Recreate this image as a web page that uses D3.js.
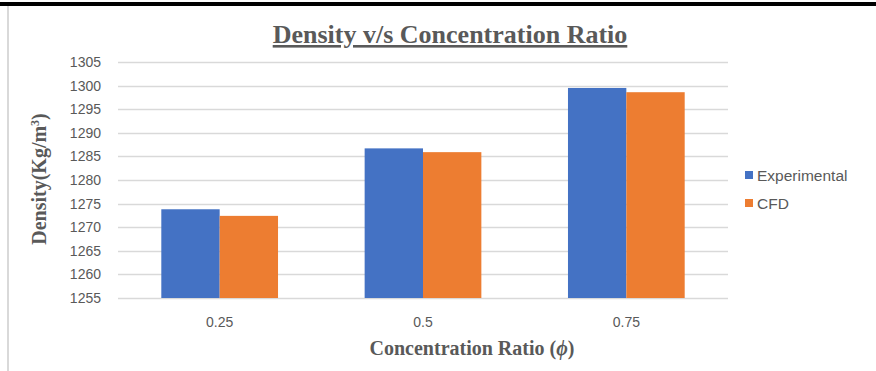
<!DOCTYPE html>
<html>
<head>
<meta charset="utf-8">
<script src="https://cdn.jsdelivr.net/npm/d3@7"></script>
<style>
  html, body { margin: 0; padding: 0; background: #fff; }
  svg { display: block; }
</style>
</head>
<body>
<svg id="chart" width="876" height="371"></svg>
<script>
// Concentration ratios on the x axis and measured / simulated densities
const categories = ["0.25", "0.5", "0.75"];
const seriesNames = ["Experimental", "CFD"];
const experimental = [1273.8, 1286.7, 1299.5];
const cfd = [1272.4, 1285.9, 1298.6];
const yTicks = [1255, 1260, 1265, 1270, 1275, 1280, 1285, 1290, 1295, 1300, 1305];
const colors = ["#4472C4", "#ED7D31"];

const svg = d3.select("#chart");
const W = 876, H = 371;
const plot = { left: 118, right: 728, top: 62, bottom: 298 };
const sans = "'Liberation Sans', Arial, sans-serif";
const serif = "'Liberation Serif', 'Times New Roman', serif";

// page frame: dark rule across the top, light rule down the left
svg.append("rect").attr("x", 0).attr("y", 2).attr("width", W).attr("height", 4).attr("fill", "#000");
svg.append("rect").attr("x", 7).attr("y", 6).attr("width", 2).attr("height", H - 6).attr("fill", "#d9d9d9");

const x0 = d3.scaleBand().domain(categories).range([plot.left, plot.right])
  .paddingInner(0.426).paddingOuter(0.213);
const x1 = d3.scaleBand().domain(seriesNames).range([0, x0.bandwidth()]);
const y = d3.scaleLinear().domain([1255, 1305]).range([plot.bottom, plot.top]);

// gridlines
svg.append("g").selectAll("line").data(yTicks).join("line")
  .attr("x1", plot.left).attr("x2", plot.right)
  .attr("y1", d => Math.round(y(d)) + 0.5).attr("y2", d => Math.round(y(d)) + 0.5)
  .attr("stroke", "#d9d9d9").attr("stroke-width", 1.5);

// y axis tick labels
const yAxis = d3.axisLeft(y).tickValues(yTicks).tickFormat(d3.format("d")).tickSize(0).tickPadding(0);
const gy = svg.append("g").attr("transform", `translate(${plot.left - 17},0)`).call(yAxis);
gy.select(".domain").remove();
gy.selectAll("text").attr("fill", "#595959")
  .style("font-family", sans).style("font-size", "14px");

// x axis category labels
const xAxis = d3.axisBottom(x0).tickSize(0).tickPadding(0);
const gx = svg.append("g").attr("transform", `translate(0,${plot.bottom + 19})`).call(xAxis);
gx.select(".domain").remove();
gx.selectAll("text").attr("fill", "#595959")
  .style("font-family", sans).style("font-size", "14px");

// bars
const rows = categories.map((c, i) => ({ cat: c, vals: [experimental[i], cfd[i]] }));
svg.append("g").selectAll("g").data(rows).join("g")
  .attr("transform", d => `translate(${x0(d.cat)},0)`)
  .selectAll("rect").data(d => d.vals.map((v, j) => ({ name: seriesNames[j], v, j })))
  .join("rect")
  .attr("x", d => x1(d.name)).attr("width", x1.bandwidth())
  .attr("y", d => y(d.v)).attr("height", d => y(1255) - y(d.v))
  .attr("fill", d => colors[d.j]);

// title
svg.append("text").attr("x", 450).attr("y", 43).attr("text-anchor", "middle")
  .attr("fill", "#595959").attr("text-decoration", "underline")
  .style("font-family", serif).style("font-weight", "bold").style("font-size", "26px")
  .text("Density v/s Concentration Ratio");

// x axis title
const xt = svg.append("text").attr("x", 472).attr("y", 355).attr("text-anchor", "middle")
  .attr("fill", "#595959")
  .style("font-family", serif).style("font-weight", "bold").style("font-size", "20px");
xt.append("tspan").text("Concentration Ratio (");
xt.append("tspan").style("font-style", "italic").text("ϕ");
xt.append("tspan").text(")");

// y axis title
const yt = svg.append("text").attr("transform", "translate(46,179) rotate(-90)")
  .attr("text-anchor", "middle").attr("fill", "#595959")
  .style("font-family", serif).style("font-weight", "bold").style("font-size", "20px");
yt.append("tspan").text("Density(Kg/m");
yt.append("tspan").attr("dy", -7).style("font-size", "12px").text("3");
yt.append("tspan").attr("dy", 7).text(")");

// legend
const lg = svg.append("g").attr("transform", "translate(745,171)");
seriesNames.forEach((n, i) => {
  const row = lg.append("g").attr("transform", `translate(0,${i * 28})`);
  row.append("rect").attr("width", 8).attr("height", 8).attr("fill", colors[i]);
  row.append("text").attr("x", 12).attr("y", 9.5).attr("fill", "#595959")
    .style("font-family", sans).style("font-size", "15.5px")
    .text(n);
});
</script>
</body>
</html>
